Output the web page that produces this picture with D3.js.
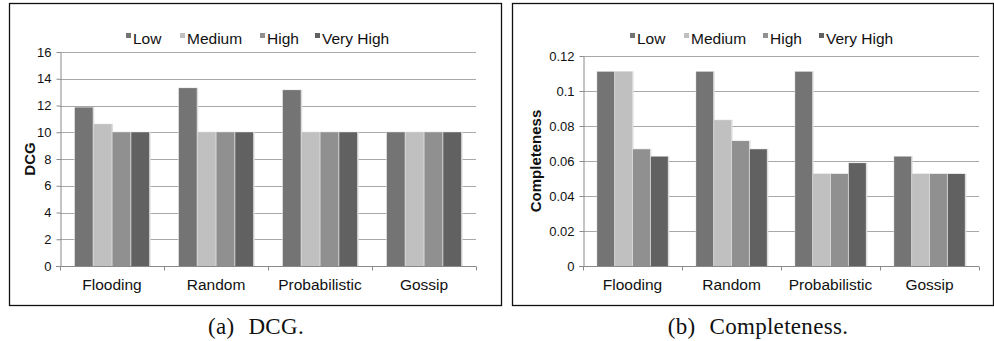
<!DOCTYPE html>
<html>
<head>
<meta charset="utf-8">
<script src="https://cdn.jsdelivr.net/npm/d3@7"></script>
<style>
  body { margin: 0; background: white; }
  svg { display: block; }
</style>
</head>
<body>
<svg id="chart" width="994" height="341"></svg>
<script>
var categories = ["Flooding", "Random", "Probabilistic", "Gossip"];
var levels = ["Low", "Medium", "High", "Very High"];
var colors = ["#747474", "#c0c0c0", "#909090", "#616161"];

// DCG per level, one entry per category
var dcgLow = [11.85, 13.3, 13.15, 10];
var dcgMedium = [10.6, 10, 10, 10];
var dcgHigh = [10, 10, 10, 10];
var dcgVeryHigh = [10, 10, 10, 10];
var dcgTicks = [0, 2, 4, 6, 8, 10, 12, 14, 16];

// completeness per level
var compLow = [0.111, 0.111, 0.111, 0.0625];
var compMedium = [0.111, 0.0833, 0.0526, 0.0526];
var compHigh = [0.0667, 0.0714, 0.0526, 0.0526];
var compVeryHigh = [0.0625, 0.0667, 0.0588, 0.0526];
var compTicks = [0, 0.02, 0.04, 0.06, 0.08, 0.1, 0.12];

var svg = d3.select("#chart");
var sans = "'Liberation Sans', Arial, sans-serif";

function drawPanel(opt) {
  var g = svg.append("g");

  // frame
  g.append("rect")
    .attr("x", opt.box[0] + 0.5).attr("y", opt.box[1] + 0.5)
    .attr("width", opt.box[2]).attr("height", opt.box[3])
    .attr("fill", "none").attr("stroke", "#111").attr("stroke-width", 1.3);

  var x = d3.scaleBand()
    .domain(categories)
    .range([opt.left, opt.right]);

  var bw = x.bandwidth();
  var x1 = d3.scaleBand()
    .domain(levels)
    .range([bw * 0.143, bw * 0.857])
    .paddingInner(0.05);

  var y = d3.scaleLinear()
    .domain([0, opt.ticks[opt.ticks.length - 1]])
    .range([opt.bottom, opt.top]);

  // gridlines
  g.selectAll(".grid")
    .data(opt.ticks.slice(1))
    .enter().append("line")
      .attr("x1", opt.left).attr("x2", opt.right)
      .attr("y1", function(d) { return Math.round(y(d)) + 0.5; })
      .attr("y2", function(d) { return Math.round(y(d)) + 0.5; })
      .attr("stroke", "#a8a8a8").attr("stroke-width", 1);

  // bars
  var groups = g.selectAll(".grp")
    .data(categories)
    .enter().append("g")
      .attr("transform", function(d) { return "translate(" + x(d) + ",0)"; });

  function rows(c, i) {
    return levels.map(function(l, j) { return { level: l, value: opt.series[j][i], j: j }; });
  }

  groups.selectAll(".shadow")
    .data(rows)
    .enter().append("rect")
      .attr("x", function(d) { return x1(d.level) - 0.5; })
      .attr("y", function(d) { return y(d.value) - 0.5; })
      .attr("width", x1.bandwidth() + 2)
      .attr("height", function(d) { return opt.bottom - y(d.value) + 0.5; })
      .attr("fill", "#dcdcdc");

  groups.selectAll(".bar")
    .data(rows)
    .enter().append("rect")
      .attr("x", function(d) { return x1(d.level); })
      .attr("y", function(d) { return y(d.value); })
      .attr("width", x1.bandwidth())
      .attr("height", function(d) { return opt.bottom - y(d.value); })
      .attr("fill", function(d) { return colors[d.j]; });

  // y axis
  var yAxis = g.append("g")
    .attr("transform", "translate(" + (opt.left + 0.5) + ",0)")
    .call(d3.axisLeft(y).tickValues(opt.ticks).tickSize(4).tickSizeOuter(0)
      .tickFormat(function(d) { return d3.format("~g")(d); }));
  yAxis.select(".domain").attr("stroke", "#8a8a8a");
  yAxis.selectAll("line").attr("stroke", "#8a8a8a");
  yAxis.selectAll("text")
    .attr("font-family", sans)
    .attr("font-size", 13).attr("fill", "#111").attr("dx", "-2");

  // x axis
  var xAxis = g.append("g")
    .attr("transform", "translate(0," + (opt.bottom + 0.5) + ")");
  xAxis.append("line")
    .attr("x1", opt.left - 4).attr("x2", opt.right)
    .attr("stroke", "#8a8a8a");
  xAxis.selectAll(".tk")
    .data(categories.concat(["end"]))
    .enter().append("line")
      .attr("x1", function(d, i) { return Math.round(opt.left + i * bw) + 0.5; })
      .attr("x2", function(d, i) { return Math.round(opt.left + i * bw) + 0.5; })
      .attr("y1", 0).attr("y2", 4)
      .attr("stroke", "#8a8a8a");
  xAxis.selectAll(".lbl")
    .data(categories)
    .enter().append("text")
      .attr("x", function(d) { return x(d) + bw / 2; })
      .attr("y", 23)
      .attr("text-anchor", "middle")
      .attr("font-family", sans)
      .attr("font-size", 15.5).attr("fill", "#111")
      .text(function(d) { return d; });

  // y title
  g.append("text")
    .attr("transform", "translate(" + opt.titleX + "," + ((opt.top + opt.bottom) / 2) + ") rotate(-90)")
    .attr("text-anchor", "middle")
    .attr("font-family", sans)
    .attr("font-weight", "bold")
    .attr("font-size", 15).attr("fill", "#111")
    .text(opt.title);

  // legend
  var leg = g.selectAll(".leg")
    .data(levels)
    .enter().append("g")
      .attr("transform", function(d, i) { return "translate(" + opt.legendX[i] + ",38)"; });
  leg.append("rect")
    .attr("x", 0).attr("y", -5).attr("width", 5).attr("height", 5)
    .attr("fill", function(d, i) { return colors[i]; });
  leg.append("text")
    .attr("x", 7).attr("y", 5.5)
    .attr("font-family", sans)
    .attr("font-size", 15.5).attr("fill", "#111")
    .text(function(d) { return d; });

  // caption
  var cap = svg.append("text")
    .attr("x", opt.captionX).attr("y", 334)
    .attr("text-anchor", "middle")
    .attr("font-family", "'Liberation Serif', 'Times New Roman', serif")
    .attr("font-size", 23).attr("letter-spacing", 0.3).attr("fill", "#111");
  cap.append("tspan").text(opt.caption[0]);
  cap.append("tspan").attr("dx", 14).text(opt.caption[1]);
}

drawPanel({
  box: [9, 3, 492, 302],
  left: 60, right: 476, top: 52, bottom: 266,
  ticks: dcgTicks,
  series: [dcgLow, dcgMedium, dcgHigh, dcgVeryHigh],
  title: "DCG", titleX: 35,
  legendX: [126, 180, 260, 315],
  caption: ["(a)", "DCG."], captionX: 256
});

drawPanel({
  box: [512, 3, 481, 302],
  left: 583, right: 979, top: 56, bottom: 266,
  ticks: compTicks,
  series: [compLow, compMedium, compHigh, compVeryHigh],
  title: "Completeness", titleX: 541,
  legendX: [630, 684, 763, 819],
  caption: ["(b)", "Completeness."], captionX: 758
});
</script>
</body>
</html>
